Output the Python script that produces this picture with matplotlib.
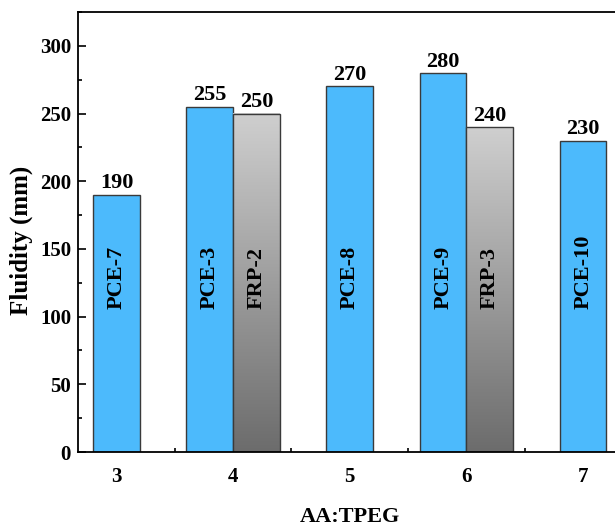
import numpy as np
import matplotlib
matplotlib.use("Agg")
import matplotlib.pyplot as plt
from matplotlib.colors import LinearSegmentedColormap
from matplotlib.ticker import MultipleLocator

# ---- data ----
ratios = [3, 4, 5, 6, 7]
pce_values = [190, 255, 270, 280, 230]
pce_names = ["PCE-7", "PCE-3", "PCE-8", "PCE-9", "PCE-10"]
frp_ratios = [4, 6]
frp_values = [250, 240]
frp_names = ["FRP-2", "FRP-3"]
x_ticks = [3, 4, 5, 6, 7]
y_ticks = [0, 50, 100, 150, 200, 250, 300]

plt.rcParams['font.family'] = ['Liberation Serif', 'DejaVu Serif']
plt.rcParams['font.weight'] = 'bold'

fig = plt.figure(figsize=(6.15, 5.28), dpi=100)
ax = fig.add_axes([0.1268, 0.1439, 0.884, 0.8334])

width = 0.4
blue = '#4cbafc'
edge = '#3a3a3a'
gray_cmap = LinearSegmentedColormap.from_list('g', ['#6c6c6c', '#cfcfcf'])

label_y = 106
for x, v, name in zip(ratios, pce_values, pce_names):
    xc = x - width / 2 if x in frp_ratios else x
    ax.bar(xc, v, width=width, color=blue, edgecolor=edge, linewidth=1.0, zorder=2)
    ax.annotate(str(v), (xc, v), xytext=(0, 1), textcoords='offset points',
                ha='center', va='bottom', fontsize=16, fontweight='bold')
    ax.text(xc, label_y, name, rotation=90, ha='center', va='bottom',
            fontsize=16, fontweight='bold', zorder=4)

grad = np.linspace(1, 0, 256).reshape(-1, 1)
for x, v, name in zip(frp_ratios, frp_values, frp_names):
    xc = x + width / 2
    ax.imshow(grad, extent=[xc - width / 2, xc + width / 2, 0, v], cmap=gray_cmap,
              aspect='auto', zorder=2, interpolation='bilinear')
    ax.bar(xc, v, width=width, facecolor='none', edgecolor=edge, linewidth=1.0, zorder=3)
    ax.annotate(str(v), (xc, v), xytext=(0, 1), textcoords='offset points',
                ha='center', va='bottom', fontsize=16, fontweight='bold')
    ax.text(xc, label_y, name, rotation=90, ha='center', va='bottom',
            fontsize=16, fontweight='bold', zorder=4)

ax.set_aspect('auto')
ax.set_xlim(2.67, 7.33)
ax.set_ylim(0, 325)
ax.set_xticks(x_ticks)
ax.set_yticks(y_ticks)
ax.xaxis.set_minor_locator(MultipleLocator(0.5))
ax.yaxis.set_minor_locator(MultipleLocator(25))
ax.tick_params(axis='both', which='major', direction='in', length=6, width=1.2,
               labelsize=15, top=False, right=False)
ax.tick_params(axis='both', which='minor', direction='in', length=3, width=1.2,
               top=False, right=False)
ax.tick_params(axis='x', which='major', pad=11)
ax.tick_params(axis='y', which='major', pad=5)
for lab in ax.get_xticklabels() + ax.get_yticklabels():
    lab.set_fontweight('bold')
for s in ax.spines.values():
    s.set_linewidth(1.3)
    s.set_zorder(5)

ax.set_ylabel('Fluidity (mm)', fontsize=18, fontweight='bold')
ax.yaxis.set_label_coords(-0.083, 0.482)
ax.set_xlabel('AA:TPEG', fontsize=16, fontweight='bold')
ax.xaxis.set_label_coords(0.5, -0.125)

fig.savefig('out.png', dpi=100)
